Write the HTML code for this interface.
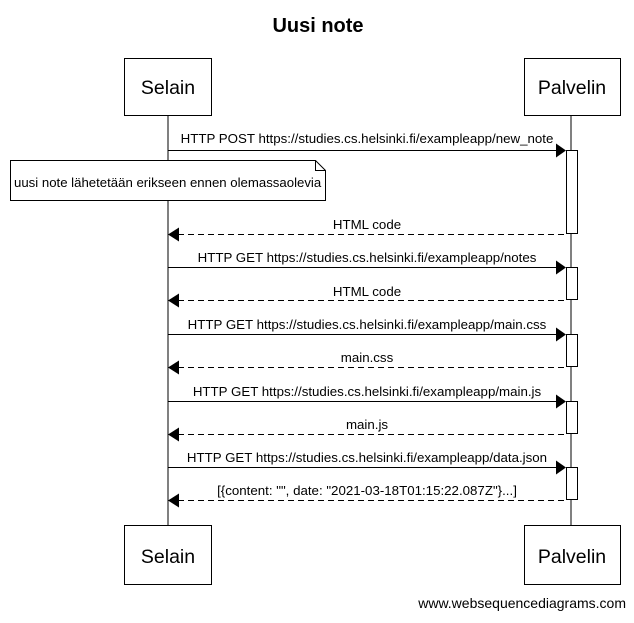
<!DOCTYPE html>
<html><head><style>body{margin:0;background:#fff}</style></head><body>
<svg width="634" height="618" xmlns="http://www.w3.org/2000/svg" font-family="Liberation Sans, sans-serif">
<rect width="634" height="618" fill="#fff"/>
<text x="318" y="32" font-size="20" font-weight="bold" text-anchor="middle">Uusi note</text>
<g stroke="#000" fill="#fff">
<line x1="168" y1="115" x2="168" y2="525"/>
<line x1="571" y1="115" x2="571" y2="525"/>
<rect x="124.5" y="58.5" width="87" height="57"/>
<rect x="524.5" y="58.5" width="96" height="57"/>
<rect x="124.5" y="525.5" width="87" height="59"/>
<rect x="524.5" y="525.5" width="96" height="59"/>
<rect x="566.5" y="150.5" width="11" height="83"/>
<rect x="566.5" y="267.5" width="11" height="32"/>
<rect x="566.5" y="334.5" width="11" height="32"/>
<rect x="566.5" y="401.5" width="11" height="32"/>
<rect x="566.5" y="467.5" width="11" height="32"/>
<path d="M10.5 160.5H315.5L325.5 170.5V200.5H10.5Z"/>
<path d="M315.5 160.5V170.5H325.5" fill="none"/>
</g>
<g font-size="19.5" text-anchor="middle">
<text x="168" y="94">Selain</text><text x="572" y="94">Palvelin</text>
<text x="168" y="563">Selain</text><text x="572" y="563">Palvelin</text>
</g>
<text x="14" y="187" font-size="13.2">uusi note lähetetään erikseen ennen olemassaolevia</text>
<g stroke="#000">
<line x1="168" y1="150.5" x2="558" y2="150.5"/>
<line x1="168" y1="267.5" x2="558" y2="267.5"/>
<line x1="168" y1="334.5" x2="558" y2="334.5"/>
<line x1="168" y1="401.5" x2="558" y2="401.5"/>
<line x1="168" y1="467.5" x2="558" y2="467.5"/>
<g stroke-dasharray="6,4">
<line x1="178" y1="234.5" x2="566" y2="234.5"/>
<line x1="178" y1="300.5" x2="566" y2="300.5"/>
<line x1="178" y1="367.5" x2="566" y2="367.5"/>
<line x1="178" y1="434.5" x2="566" y2="434.5"/>
<line x1="178" y1="500.5" x2="566" y2="500.5"/>
</g></g>
<g fill="#000">
<path d="M556 143.5L566 150.5L556 157.5Z"/>
<path d="M556 260.5L566 267.5L556 274.5Z"/>
<path d="M556 327.5L566 334.5L556 341.5Z"/>
<path d="M556 394.5L566 401.5L556 408.5Z"/>
<path d="M556 460.5L566 467.5L556 474.5Z"/>
<path d="M179 227.5L168 234.5L179 241.5Z"/>
<path d="M179 293.5L168 300.5L179 307.5Z"/>
<path d="M179 360.5L168 367.5L179 374.5Z"/>
<path d="M179 427.5L168 434.5L179 441.5Z"/>
<path d="M179 493.5L168 500.5L179 507.5Z"/>
</g>
<g font-size="13.3" text-anchor="middle">
<text x="367" y="143">HTTP POST https://studies.cs.helsinki.fi/exampleapp/new_note</text>
<text x="367" y="229">HTML code</text>
<text x="367" y="262">HTTP GET https://studies.cs.helsinki.fi/exampleapp/notes</text>
<text x="367" y="296">HTML code</text>
<text x="367" y="329">HTTP GET https://studies.cs.helsinki.fi/exampleapp/main.css</text>
<text x="367" y="362">main.css</text>
<text x="367" y="396">HTTP GET https://studies.cs.helsinki.fi/exampleapp/main.js</text>
<text x="367" y="429">main.js</text>
<text x="367" y="462">HTTP GET https://studies.cs.helsinki.fi/exampleapp/data.json</text>
<text x="367" y="495">[{content: "", date: "2021-03-18T01:15:22.087Z"}...]</text>
</g>
<text x="626" y="608" font-size="14" text-anchor="end">www.websequencediagrams.com</text>
</svg>
</body></html>
